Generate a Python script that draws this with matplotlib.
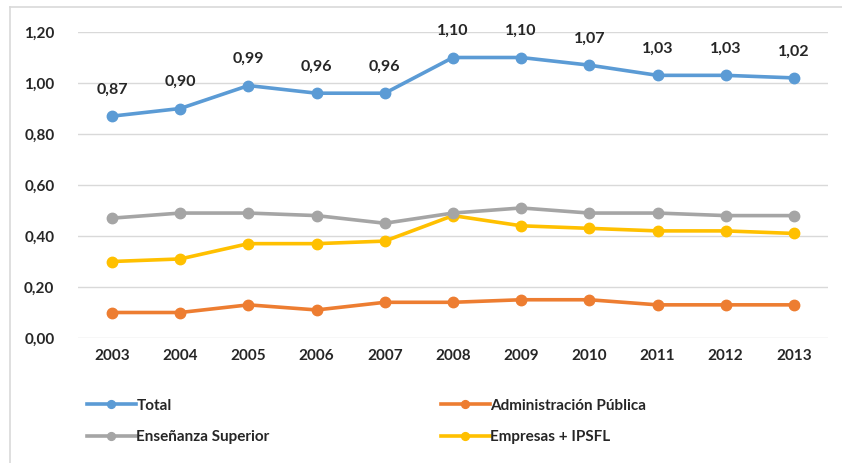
import matplotlib.pyplot as plt
from matplotlib.lines import Line2D

years = ["2003", "2004", "2005", "2006", "2007", "2008", "2009", "2010", "2011", "2012", "2013"]
total = [0.87, 0.90, 0.99, 0.96, 0.96, 1.10, 1.10, 1.07, 1.03, 1.03, 1.02]
admin_publica = [0.10, 0.10, 0.13, 0.11, 0.14, 0.14, 0.15, 0.15, 0.13, 0.13, 0.13]
ensenanza = [0.47, 0.49, 0.49, 0.48, 0.45, 0.49, 0.51, 0.49, 0.49, 0.48, 0.48]
empresas = [0.30, 0.31, 0.37, 0.37, 0.38, 0.48, 0.44, 0.43, 0.42, 0.42, 0.41]
yticks = [0.0, 0.2, 0.4, 0.6, 0.8, 1.0, 1.2]

series = [
    ("Total", total, "#5B9BD5"),
    ("Administración Pública", admin_publica, "#ED7D31"),
    ("Enseñanza Superior", ensenanza, "#A5A5A5"),
    ("Empresas + IPSFL", empresas, "#FFC000"),
]

plt.rcParams["font.family"] = ["Lato", "DejaVu Sans"]
text_col = "#262626"

fig = plt.figure(figsize=(8.42, 4.63), dpi=100)
W, H = 842, 463

# light frame of the chart area
fig.add_artist(Line2D([10 / W, 10 / W], [0, 1 - 7 / H], color="#d9d9d9", lw=1.2))
fig.add_artist(Line2D([10 / W, 1], [1 - 7 / H, 1 - 7 / H], color="#d9d9d9", lw=1.2))

ax = fig.add_axes([78 / W, 1 - 338 / H, 750 / W, 306 / H])
x = list(range(len(years)))

# draw lower series first so Total sits on top
handles = {}
for name, vals, col in series[::-1]:
    (ln,) = ax.plot(x, vals, color=col, lw=2.6, marker="o", ms=7.5,
                    clip_on=False, zorder=3, label=name)
    handles[name] = ln

for xi, v in zip(x, total):
    ax.annotate(f"{v:.2f}".replace(".", ","), (xi, v), xytext=(0, 14),
                textcoords="offset points", ha="center", va="bottom",
                fontsize=11.5, fontweight="bold", color=text_col)

ax.set_xlim(-0.5, len(years) - 0.5)
ax.set_ylim(0, 1.2)
ax.set_yticks(yticks)
ax.set_yticklabels([f"{t:.2f}".replace(".", ",") for t in yticks])
ax.set_xticks(x)
ax.set_xticklabels(years)
ax.grid(axis="y", color="#d9d9d9", lw=1)
ax.set_axisbelow(True)
for s in ax.spines.values():
    s.set_visible(False)
ax.tick_params(length=0, labelsize=11, colors=text_col, pad=8)
ax.tick_params(axis="y", pad=17)
for lab in ax.get_xticklabels() + ax.get_yticklabels():
    lab.set_fontweight("bold")

order = ["Total", "Enseñanza Superior", "Administración Pública", "Empresas + IPSFL"]
leg = fig.legend([handles[n] for n in order], order, ncol=2, loc="upper left",
                 bbox_to_anchor=(73 / W, 1 - 385 / H), frameon=False,
                 handlelength=3.2, handletextpad=0.05, columnspacing=11.2,
                 labelspacing=1.15, markerscale=0.75,
                 prop={"size": 11, "weight": "bold"})
for t in leg.get_texts():
    t.set_color(text_col)

fig.savefig("out.png", dpi=100)
